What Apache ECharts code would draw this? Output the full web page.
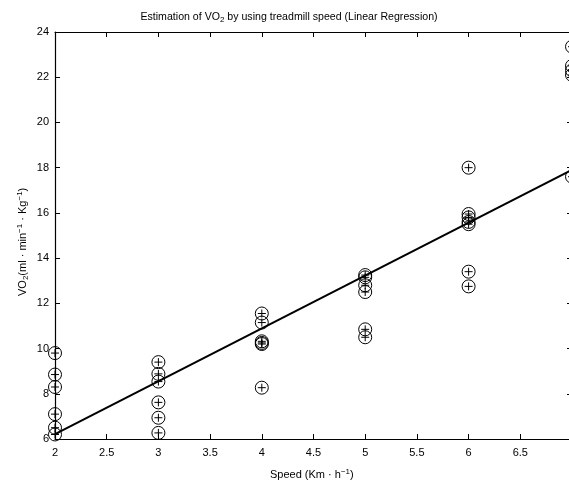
<!DOCTYPE html>
<html><head><meta charset="utf-8">
<script src="https://cdn.jsdelivr.net/npm/echarts@6/dist/echarts.min.js"></script>
<style>html,body{margin:0;padding:0;background:#fff}#c{width:569px;height:487px}</style>
</head><body><div id="c"></div>
<script>
// Observations: speed (km/h) and measured VO2
const speed = [2,2,2,2,2,2, 3,3,3,3,3,3, 4,4,4,4,4,4, 5,5,5,5,5,5, 6,6,6,6,6,6,6, 7,7,7,7,7];
const vo2 = [9.8,8.85,8.3,7.1,6.5,6.2, 9.4,8.88,8.54,7.62,6.94,6.27, 11.55,11.15,10.32,10.25,10.2,8.27,
             13.25,13.15,12.8,12.5,10.85,10.5, 18.0,15.95,15.8,15.6,15.5,13.4,12.75, 23.35,22.5,22.3,22.1,17.6];
// Regression line endpoints
const lineX = [2, 7];
const lineY = [6.22, 17.9];
const xTicks = [2,2.5,3,3.5,4,4.5,5,5.5,6,6.5,7];
const yTicks = [6,8,10,12,14,16,18,20,22,24];

const chart = echarts.init(document.getElementById('c'));
const font = 'Liberation Sans, Arial, sans-serif';
const axCommon = {
  axisLine:{show:true, lineStyle:{color:'#000', width:1.2}},
  axisTick:{show:true, inside:true, length:5, lineStyle:{color:'#000'}},
  splitLine:{show:false}
};
chart.setOption({
  backgroundColor:'#fff',
  animation:false,
  grid:{left:55, top:32, width:517, height:407, outerBoundsMode:'none', containLabel:false},
  title:{
    text:'{a|Estimation of VO}{s|2}{a| by using treadmill speed (Linear Regression)}',
    left:284, top:5, textAlign:'center',
    textStyle:{fontWeight:'normal', rich:{
      a:{fontFamily:font, fontSize:10.6, color:'#000', fontWeight:'normal'},
      s:{fontFamily:font, fontSize:8, color:'#000', fontWeight:'normal', verticalAlign:'bottom', padding:[6,0,0,0]}
    }}
  },
  xAxis:[
    Object.assign({type:'value', min:2, max:7, interval:0.5, position:'bottom',
      axisLabel:{color:'#000', fontFamily:font, fontSize:11, margin:8,
        formatter:v=> (v===7 ? '' : String(v))}}, axCommon),
    Object.assign({type:'value', min:2, max:7, interval:0.5, position:'top',
      axisLabel:{show:false}}, axCommon)
  ],
  yAxis:[
    Object.assign({type:'value', min:6, max:24, interval:2, position:'left',
      axisLabel:{color:'#000', fontFamily:font, fontSize:11, margin:6}}, axCommon),
    Object.assign({type:'value', min:6, max:24, interval:2, position:'right',
      axisLabel:{show:false}}, axCommon)
  ],
  graphic:[
    {type:'text', left:270, top:468, style:{
      text:'{a|Speed (Km · h}{s|−1}{a|)}',
      rich:{a:{fontFamily:font, fontSize:11, fill:'#000'},
            s:{fontFamily:font, fontSize:8, fill:'#000', padding:[0,0,6,0]}}}},
    {type:'text', x:16, y:296, rotation:Math.PI/2, style:{
      text:'{a|VO}{s|2}{a|(ml · min}{p|−1}{a| · Kg}{p|−1}{a|)}',
      rich:{a:{fontFamily:font, fontSize:11, fill:'#000'},
            s:{fontFamily:font, fontSize:8, fill:'#000', padding:[6,0,0,0]},
            p:{fontFamily:font, fontSize:8, fill:'#000', padding:[0,0,6,0]}}}}
  ],
  series:[
    {
      type:'custom', coordinateSystem:'cartesian2d', clip:false,
      data: speed.map((s,i)=>[s, vo2[i]]),
      renderItem:function(params, api){
        const p = api.coord([api.value(0), api.value(1)]);
        const st = {stroke:'#000', lineWidth:1, fill:'none'};
        return {type:'group', children:[
          {type:'circle', shape:{cx:p[0], cy:p[1], r:6.5}, style:st},
          {type:'line', shape:{x1:p[0]-4, y1:p[1], x2:p[0]+4, y2:p[1]}, style:st},
          {type:'line', shape:{x1:p[0], y1:p[1]-4, x2:p[0], y2:p[1]+4}, style:st}
        ]};
      }
    },
    {
      type:'line', data: lineX.map((x,i)=>[x, lineY[i]]), symbol:'none',
      lineStyle:{color:'#000', width:2}
    }
  ]
});
</script></body></html>
